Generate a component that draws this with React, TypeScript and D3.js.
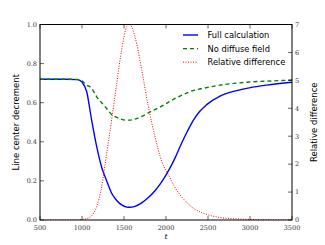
import { useRef, useEffect } from "react";
import * as d3 from "d3";

// sample positions (t)
const tValues = [500, 800, 950, 1000, 1056, 1115, 1175, 1234, 1294, 1353, 1413, 1472, 1532, 1563, 1631, 1711, 1790, 1869, 1949, 2040, 2100, 2167, 2250, 2325, 2400, 2484, 2643, 2841, 2992, 3200, 3500];

const fullCalc = [0.72, 0.72, 0.718, 0.705, 0.656, 0.51, 0.375, 0.27, 0.2, 0.137, 0.1, 0.077, 0.066, 0.065, 0.07, 0.088, 0.115, 0.15, 0.195, 0.26, 0.31, 0.375, 0.45, 0.51, 0.555, 0.59, 0.634, 0.662, 0.676, 0.69, 0.705];

const noDiffuse = [0.72, 0.72, 0.719, 0.712, 0.69, 0.674, 0.63, 0.6, 0.57, 0.54, 0.525, 0.515, 0.511, 0.511, 0.516, 0.53, 0.548, 0.565, 0.582, 0.605, 0.62, 0.634, 0.65, 0.662, 0.67, 0.677, 0.69, 0.7, 0.706, 0.71, 0.716];

const relDiff = [0, 0, 0, 0.02, 0.05, 0.15, 0.48, 1.19, 2.39, 3.58, 4.89, 6.09, 6.92, 7.02, 6.56, 5.37, 4.06, 2.98, 2.1, 1.55, 1.2, 0.9, 0.62, 0.42, 0.3, 0.2, 0.09, 0.04, 0.02, 0.01, 0];

const xTicks = [500, 1000, 1500, 2000, 2500, 3000, 3500];
const yTicks = [0, 0.2, 0.4, 0.6, 0.8, 1.0];
const y2Ticks = [0, 1, 2, 3, 4, 5, 6, 7];

const legendItems = [
  { label: "Full calculation", color: "#0000ff", dash: "none", width: 1.4 },
  { label: "No diffuse field", color: "#008000", dash: "4,3", width: 1.4 },
  { label: "Relative difference", color: "#ff0000", dash: "1,1.5", width: 1 },
];

export default function App() {
  const svgRef = useRef<SVGSVGElement>(null);

  useEffect(() => {
    const svg = svgRef.current;
    if (!svg) return;
    const width = 325;
    const height = 245;
    const margin = { top: 24.5, right: 33, bottom: 25, left: 40 };
    const innerW = width - margin.left - margin.right;
    const innerH = height - margin.top - margin.bottom;

    d3.select(svg).selectAll("*").remove();

    const x = d3.scaleLinear().domain([500, 3500]).range([0, innerW]);
    const y = d3.scaleLinear().domain([0, 1]).range([innerH, 0]);
    const y2 = d3.scaleLinear().domain([0, 7]).range([innerH, 0]);

    const g = d3
      .select(svg)
      .append("g")
      .attr("transform", `translate(${margin.left},${margin.top})`);

    const serif = "'DejaVu Serif', serif";
    const sans = "'DejaVu Sans', sans-serif";
    const tickLen = 4;

    // clip for lines
    g.append("clipPath")
      .attr("id", "plotclip")
      .append("rect")
      .attr("width", innerW)
      .attr("height", innerH);

    const lineA = d3
      .line<number>()
      .x((_, i) => x(tValues[i]))
      .y((d) => y(d))
      .curve(d3.curveMonotoneX);
    const lineB = d3
      .line<number>()
      .x((_, i) => x(tValues[i]))
      .y((d) => y2(d))
      .curve(d3.curveMonotoneX);

    const lines = g.append("g").attr("clip-path", "url(#plotclip)");
    lines.append("path")
      .datum(fullCalc)
      .attr("fill", "none")
      .attr("stroke", "#0000ff")
      .attr("stroke-width", 1.4)
      .attr("d", lineA);
    lines.append("path")
      .datum(noDiffuse)
      .attr("fill", "none")
      .attr("stroke", "#008000")
      .attr("stroke-width", 1.4)
      .attr("stroke-dasharray", "4,3")
      .attr("d", lineA);
    lines.append("path")
      .datum(relDiff)
      .attr("fill", "none")
      .attr("stroke", "#ff0000")
      .attr("stroke-width", 1)
      .attr("stroke-dasharray", "1,1.5")
      .attr("d", lineB);

    // frame
    g.append("rect")
      .attr("width", innerW)
      .attr("height", innerH)
      .attr("fill", "none")
      .attr("stroke", "#000")
      .attr("stroke-width", 1);

    // x ticks (bottom and top, inward)
    xTicks.forEach((t) => {
      g.append("line")
        .attr("x1", x(t)).attr("x2", x(t))
        .attr("y1", innerH).attr("y2", innerH - tickLen)
        .attr("stroke", "#000").attr("stroke-width", 0.6);
      g.append("line")
        .attr("x1", x(t)).attr("x2", x(t))
        .attr("y1", 0).attr("y2", tickLen)
        .attr("stroke", "#000").attr("stroke-width", 0.6);
      g.append("text")
        .attr("x", x(t))
        .attr("y", innerH + 10)
        .attr("text-anchor", "middle")
        .attr("font-family", serif)
        .attr("font-size", "6.5px")
        .attr("fill", "#333")
        .text(String(t));
    });

    yTicks.forEach((v) => {
      g.append("line")
        .attr("x1", 0).attr("x2", tickLen)
        .attr("y1", y(v)).attr("y2", y(v))
        .attr("stroke", "#000").attr("stroke-width", 0.6);
      g.append("text")
        .attr("x", -3)
        .attr("y", y(v) + 2.3)
        .attr("text-anchor", "end")
        .attr("font-family", serif)
        .attr("font-size", "6.5px")
        .attr("fill", "#333")
        .text(v.toFixed(1));
    });

    y2Ticks.forEach((v) => {
      g.append("line")
        .attr("x1", innerW).attr("x2", innerW - tickLen)
        .attr("y1", y2(v)).attr("y2", y2(v))
        .attr("stroke", "#000").attr("stroke-width", 0.6);
      g.append("text")
        .attr("x", innerW + 3)
        .attr("y", y2(v) + 2.3)
        .attr("text-anchor", "start")
        .attr("font-family", serif)
        .attr("font-size", "6.5px")
        .attr("fill", "#333")
        .text(String(v));
    });

    // axis labels
    g.append("text")
      .attr("transform", "rotate(-90)")
      .attr("x", -innerH / 2)
      .attr("y", -21)
      .attr("text-anchor", "middle")
      .attr("font-family", sans)
      .attr("font-size", "8.5px")
      .attr("fill", "#000")
      .text("Line center decrement");

    g.append("text")
      .attr("transform", "rotate(-90)")
      .attr("x", -innerH / 2)
      .attr("y", innerW + 25)
      .attr("text-anchor", "middle")
      .attr("font-family", sans)
      .attr("font-size", "8.5px")
      .attr("fill", "#000")
      .text("Relative difference");

    g.append("text")
      .attr("x", innerW / 2)
      .attr("y", innerH + 19)
      .attr("text-anchor", "middle")
      .attr("font-family", serif)
      .attr("font-style", "italic")
      .attr("font-size", "7.5px")
      .attr("fill", "#000")
      .text("t");

    // legend
    const lg = g.append("g").attr("transform", `translate(${183 - margin.left},${35 - margin.top})`);
    legendItems.forEach((item, i) => {
      const yy = i * 13.6;
      lg.append("line")
        .attr("x1", 0).attr("x2", 15)
        .attr("y1", yy).attr("y2", yy)
        .attr("stroke", item.color)
        .attr("stroke-width", item.width)
        .attr("stroke-dasharray", item.dash);
      lg.append("text")
        .attr("x", 24.5)
        .attr("y", yy + 3)
        .attr("font-family", sans)
        .attr("font-size", "8.3px")
        .attr("fill", "#000")
        .text(item.label);
    });
  }, []);

  return (
    <svg
      ref={svgRef}
      width={325}
      height={245}
      style={{ position: "absolute", left: 0, top: 0, background: "#fff" }}
    />
  );
}
